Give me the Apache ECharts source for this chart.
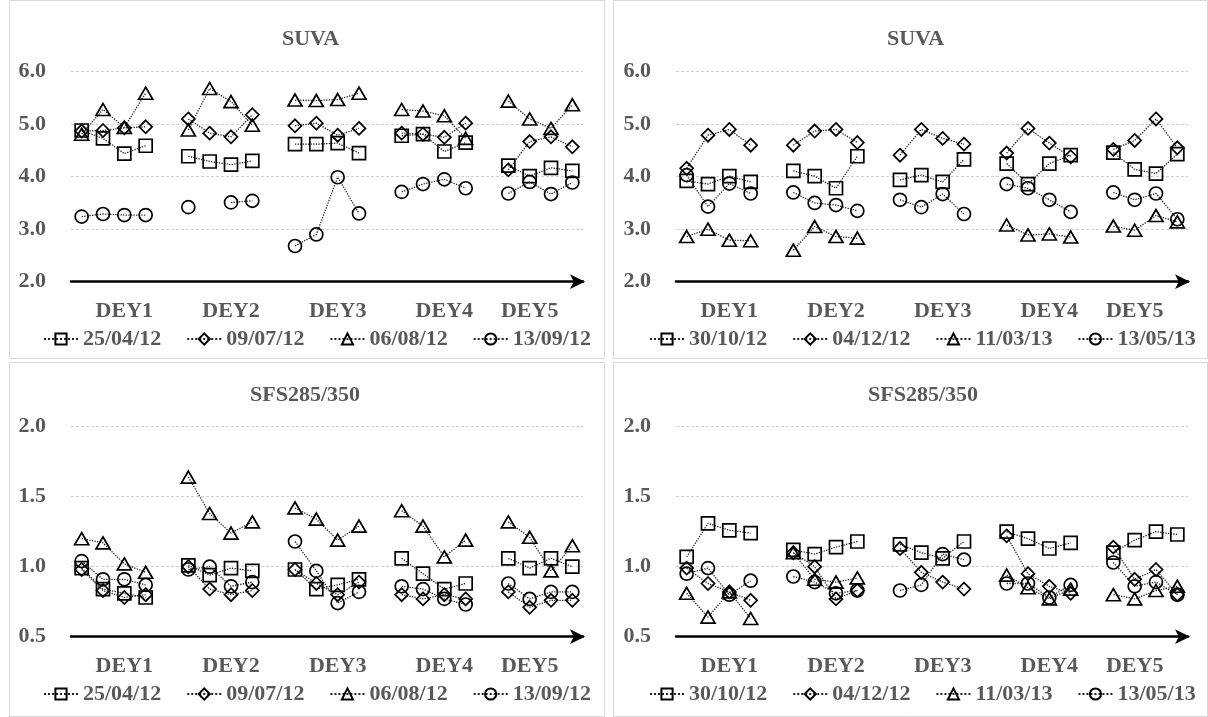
<!DOCTYPE html>
<html>
<head>
<meta charset="utf-8">
<script src="https://cdn.jsdelivr.net/npm/echarts@6/dist/echarts.min.js"></script>
<style>
html,body{margin:0;padding:0;background:#fff;}
#c{width:1208px;height:717px;}
</style>
</head>
<body>
<div id="c"></div>
<script>
// ---- data ----
const groups = ['DEY1', 'DEY2', 'DEY3', 'DEY4', 'DEY5'];
const datesA = ['25/04/12', '09/07/12', '06/08/12', '13/09/12'];
const datesB = ['30/10/12', '04/12/12', '11/03/13', '13/05/13'];
const titleTop = 'SUVA';
const titleBottom = 'SFS285/350';

// SUVA, first period (4 values per DEY group)
const suvaA_sq = [4.88,4.73,4.44,4.59, 4.39,4.29,4.23,4.30, 4.62,4.62,4.64,4.45, 4.78,4.81,4.48,4.65, 4.21,4.01,4.17,4.11];
const suvaA_di = [4.87,4.88,4.93,4.95, 5.10,4.83,4.76,5.18, 4.97,5.02,4.79,4.92, 4.83,4.81,4.75,5.02, 4.13,4.67,4.76,4.57];
const suvaA_tr = [4.81,5.28,4.94,5.59, 4.89,5.68,5.43,4.98, 5.46,5.45,5.47,5.59, 5.28,5.25,5.16,4.73, 5.44,5.10,4.92,5.37];
const suvaA_ci = [3.24,3.29,3.27,3.27, 3.42,null,3.51,3.54, 2.68,2.90,3.99,3.30, 3.71,3.86,3.95,3.78, 3.68,3.90,3.67,3.89];

// SUVA, second period
const suvaB_sq = [3.92,3.86,4.01,3.90, 4.11,4.01,3.78,4.39, 3.94,4.03,3.90,4.33, 4.25,3.86,4.25,4.41, 4.46,4.14,4.06,4.43];
const suvaB_di = [4.16,4.79,4.90,4.60, 4.60,4.87,4.90,4.65, 4.41,4.90,4.73,4.62, 4.45,4.92,4.64,4.38, 4.52,4.69,5.10,4.55];
const suvaB_tr = [2.86,3.00,2.79,2.78, 2.60,3.05,2.86,2.83, null,null,null,null, 3.08,2.89,2.91,2.85, 3.06,2.98,3.26,3.14];
const suvaB_ci = [4.03,3.43,3.87,3.68, 3.70,3.50,3.46,3.35, 3.56,3.42,3.67,3.29, 3.86,3.78,3.56,3.33, 3.70,3.56,3.68,3.19];

// SFS285/350, first period
const sfsA_sq = [0.99,0.84,0.81,0.78, 1.01,0.94,0.99,0.97, 0.98,0.84,0.87,0.91, 1.06,0.95,0.84,0.88, 1.06,0.99,1.06,1.00];
const sfsA_di = [0.98,0.83,0.78,0.80, 1.00,0.84,0.80,0.83, 0.98,0.88,0.80,0.89, 0.80,0.77,0.80,0.77, 0.82,0.71,0.76,0.76];
const sfsA_tr = [1.20,1.17,1.02,0.96, 1.64,1.38,1.24,1.32, 1.42,1.34,1.19,1.29, 1.40,1.29,1.07,1.19, 1.32,1.21,0.97,1.15];
const sfsA_ci = [1.04,0.91,0.91,0.87, 0.98,1.00,0.86,0.89, 1.18,0.97,0.74,0.82, 0.86,0.84,0.77,0.73, 0.88,0.77,0.82,0.82];

// SFS285/350, second period
const sfsB_sq = [1.07,1.31,1.26,1.24, 1.12,1.09,1.14,1.18, 1.16,1.10,1.06,1.18, 1.25,1.20,1.13,1.17, 1.10,1.19,1.25,1.23];
const sfsB_di = [0.99,0.88,0.82,0.76, 1.10,1.00,0.77,0.83, 1.13,0.96,0.89,0.84, 1.22,0.95,0.86,0.81, 1.14,0.91,0.98,0.80];
const sfsB_tr = [0.81,0.64,0.82,0.63, 1.10,0.91,0.89,0.92, null,null,null,null, 0.94,0.85,0.77,0.84, 0.80,0.77,0.83,0.86];
const sfsB_ci = [0.95,0.99,0.80,0.90, 0.93,0.89,0.81,0.83, 0.83,0.87,1.09,1.05, 0.88,0.88,0.78,0.87, 1.03,0.86,0.89,0.80];

// ---- layout / build ----
const PER = 4;                 // points per group
const SLOTS = groups.length * (PER + 1) - 1; // one empty slot between groups
const labelSlotInGroup = [2, 2, 2, 2, 1];
const slotLabels = new Array(SLOTS).fill('');
groups.forEach((g, i) => { slotLabels[i * (PER + 1) + labelSlotInGroup[i]] = g; });
const slotNames = slotLabels.map((_, i) => 's' + i);

function spread(vals) {
  const out = new Array(SLOTS).fill(null);
  vals.forEach((v, k) => {
    const g = Math.floor(k / PER), p = k % PER;
    out[g * (PER + 1) + p] = v;
  });
  return out;
}

const FONT = 'Liberation Serif';
const GRAY = '#595959';
const txt = { fontFamily: FONT, fontWeight: 'bold', fontSize: 22, color: GRAY };

const symbols = [
  { symbol: 'rect', size: 13 },
  { symbol: 'diamond', size: 13 },
  { symbol: 'triangle', size: [14, 12] },
  { symbol: 'circle', size: 13 }
];

const panels = [
  { title: titleTop, names: datesA, data: [suvaA_sq, suvaA_di, suvaA_tr, suvaA_ci], min: 2, max: 6, interval: 1,
    grid: { left: 71, top: 71.7, width: 512, height: 210 }, titleLeft: 282, titleTopPx: 28, legendLeft: 43, legendTop: 328 },
  { title: titleTop, names: datesB, data: [suvaB_sq, suvaB_di, suvaB_tr, suvaB_ci], min: 2, max: 6, interval: 1,
    grid: { left: 676, top: 71.7, width: 512, height: 210 }, titleLeft: 887, titleTopPx: 28, legendLeft: 649, legendTop: 328 },
  { title: titleBottom, names: datesA, data: [sfsA_sq, sfsA_di, sfsA_tr, sfsA_ci], min: 0.5, max: 2, interval: 0.5,
    grid: { left: 71, top: 426.7, width: 512, height: 210 }, titleLeft: 250, titleTopPx: 384, legendLeft: 43, legendTop: 683 },
  { title: titleBottom, names: datesB, data: [sfsB_sq, sfsB_di, sfsB_tr, sfsB_ci], min: 0.5, max: 2, interval: 0.5,
    grid: { left: 676, top: 426.7, width: 512, height: 210 }, titleLeft: 868, titleTopPx: 384, legendLeft: 649, legendTop: 683 }
];

const option = {
  animation: false,
  backgroundColor: '#fff',
  title: [], grid: [], xAxis: [], yAxis: [], series: [], legend: [],
  graphic: [
    { type: 'rect', shape: { x: 9.5, y: 0.5, width: 595, height: 358 }, style: { fill: 'none', stroke: '#d9d9d9', lineWidth: 1 }, silent: true },
    { type: 'rect', shape: { x: 613.5, y: 0.5, width: 594, height: 358 }, style: { fill: 'none', stroke: '#d9d9d9', lineWidth: 1 }, silent: true },
    { type: 'rect', shape: { x: 9.5, y: 362.5, width: 595, height: 354 }, style: { fill: 'none', stroke: '#d9d9d9', lineWidth: 1 }, silent: true },
    { type: 'rect', shape: { x: 613.5, y: 362.5, width: 594, height: 354 }, style: { fill: 'none', stroke: '#d9d9d9', lineWidth: 1 }, silent: true }
  ]
};

panels.forEach((p, pi) => {
  option.title.push({ text: p.title, left: p.titleLeft, top: p.titleTopPx, padding: 0, textStyle: Object.assign({}, txt) });
  option.grid.push(Object.assign({ containLabel: false }, p.grid));
  option.xAxis.push({
    type: 'category', gridIndex: pi, data: slotNames, boundaryGap: true,
    axisTick: { show: false },
    axisLine: { show: true, symbol: ['none', 'arrow'], symbolSize: [11, 15], symbolOffset: [0, 2],
      lineStyle: { color: '#000', width: 2.5 } },
    axisLabel: Object.assign({ interval: 0, margin: 19, hideOverlap: false,
      formatter: (v, i) => slotLabels[i] }, txt),
    splitLine: { show: false }
  });
  option.yAxis.push({
    type: 'value', gridIndex: pi, min: p.min, max: p.max, interval: p.interval,
    axisLine: { show: false }, axisTick: { show: false },
    axisLabel: Object.assign({ margin: 25, formatter: v => v.toFixed(1) }, txt),
    splitLine: { show: true, lineStyle: { color: '#d0d0d0', type: [3, 2], width: 1 } }
  });
  option.legend.push({
    left: p.legendLeft, top: p.legendTop, itemWidth: 34, itemHeight: 14, itemGap: 25, padding: 0,
    textStyle: Object.assign({}, txt, { padding: [0, 0, 0, 0] }),
    data: p.names.slice(),
    selectedMode: false
  });
  p.names.forEach((n, k) => {
    option.series.push({
      type: 'line', name: n, xAxisIndex: pi, yAxisIndex: pi,
      data: spread(p.data[k]),
      connectNulls: false,
      symbol: symbols[k].symbol, symbolSize: symbols[k].size, showSymbol: true,
      lineStyle: { color: '#222', width: 1.3, type: 'dotted' },
      itemStyle: { color: 'rgba(255,255,255,0)', borderColor: '#000', borderWidth: 1.7 },
      emphasis: { disabled: true },
      z: 2 + k
    });
  });
});

const chart = echarts.init(document.getElementById('c'), null, { renderer: 'canvas' });
chart.setOption(option);
</script>
</body>
</html>
